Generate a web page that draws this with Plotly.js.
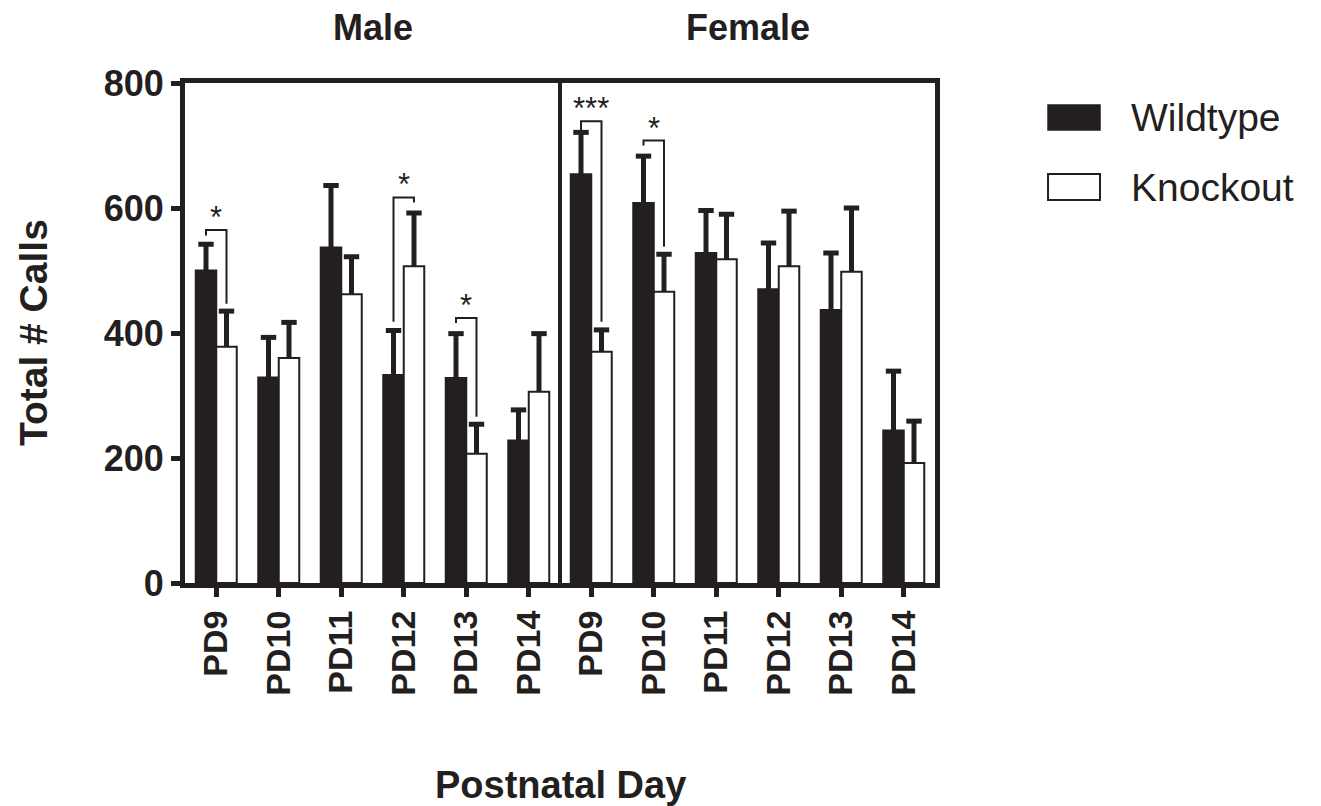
<!DOCTYPE html>
<html>
<head>
<meta charset="utf-8">
<script src="https://cdn.plot.ly/plotly-3.0.1.min.js"></script>
<style>html,body{margin:0;padding:0;background:#fff;}#chart{width:1321px;height:806px;}</style>
</head>
<body>
<div id="chart"></div>
<script>
// ---- data ----
var dayLabels = ["PD9","PD10","PD11","PD12","PD13","PD14","PD9","PD10","PD11","PD12","PD13","PD14"];
var groupTitles = ["Male","Female"];
var wildtype = [500, 329, 537, 333, 328, 228, 654, 608, 528, 470, 437, 244];
var wildtypeErr = [42, 64, 99, 71, 71, 49, 67, 75, 68, 74, 91, 95];
var knockout = [378, 360, 462, 507, 207, 306, 370, 466, 518, 507, 498, 192];
var knockoutErr = [57, 57, 60, 85, 47, 93, 35, 60, 72, 88, 102, 67];
// significance brackets: category index, bracket top, left leg bottom, right leg bottom, label
var sigIndex = [0, 3, 4, 6, 7];
var sigTop = [565, 617, 424, 739, 708];
var sigLeftBottom = [556, 418, 416, 716, 700];
var sigRightBottom = [447, 609, 266, 418, 538];
var sigLabel = ["*", "*", "*", "***", "*"];
var yTicks = [0, 200, 400, 600, 800];

var ink = "#231f20";
var fam = "'Liberation Sans', Arial, Helvetica, sans-serif";
var idx = dayLabels.map(function(_, i){ return i; });
var zeros = idx.map(function(){ return 0; });
var half = 0.164;

var traces = [
  {type:"bar", x: idx, y: wildtype, name:"Wildtype",
   marker:{color: ink, line:{color: ink, width: 2}},
   error_y:{type:"data", symmetric:false, array: wildtypeErr, arrayminus: zeros, thickness: 5, width: 0, color: ink},
   hoverinfo:"skip"},
  {type:"bar", x: idx, y: knockout, name:"Knockout",
   marker:{color:"#ffffff", line:{color: ink, width: 2}},
   error_y:{type:"data", symmetric:false, array: knockoutErr, arrayminus: zeros, thickness: 5, width: 0, color: ink},
   hoverinfo:"skip"}
];
// error bar caps (top only)
traces.push({type:"scatter", mode:"markers", x: idx.map(function(i){ return i - half; }),
  y: wildtype.map(function(v, i){ return v + wildtypeErr[i]; }),
  marker:{symbol:"line-ew", size:11, line:{color: ink, width:5}}, showlegend:false, hoverinfo:"skip", cliponaxis:false});
traces.push({type:"scatter", mode:"markers", x: idx.map(function(i){ return i + half; }),
  y: knockout.map(function(v, i){ return v + knockoutErr[i]; }),
  marker:{symbol:"line-ew", size:11, line:{color: ink, width:5}}, showlegend:false, hoverinfo:"skip", cliponaxis:false});

var annotations = [];
sigIndex.forEach(function(c, k){
  var xl = c - half, xr = c + half;
  traces.push({type:"scatter", mode:"lines", x:[xl, xl, xr, xr],
    y:[sigLeftBottom[k], sigTop[k], sigTop[k], sigRightBottom[k]],
    line:{color: ink, width: 2}, showlegend:false, hoverinfo:"skip", cliponaxis:false});
  annotations.push({x: c, y: sigTop[k], xref:"x", yref:"y", text: sigLabel[k], showarrow:false,
    yanchor:"bottom", yshift: -7, font:{family: fam, size: 31, color: ink}});
});

groupTitles.forEach(function(t, g){
  annotations.push({x: g*6 + 2.5, y: 1, xref:"x", yref:"paper", text: t, showarrow:false,
    yanchor:"middle", yshift: 56, font:{family: fam, size: 36, color: ink, weight: "bold"}});
});
annotations.push({x: 0, y: 0.5, xref:"paper", yref:"paper", text:"Total # Calls", textangle:-90,
  showarrow:false, xanchor:"center", yanchor:"middle", xshift: -152,
  font:{family: fam, size: 39, color: ink, weight:"bold"}});
annotations.push({x: 0.5, y: 0, xref:"paper", yref:"paper", text:"Postnatal Day",
  showarrow:false, xanchor:"center", yanchor:"middle", yshift: -202,
  font:{family: fam, size: 38, color: ink, weight:"bold"}});
// legend labels
annotations.push({x: 1.259, y: 0.93, xref:"paper", yref:"paper", text: traces[0].name, showarrow:false,
  xanchor:"left", yanchor:"middle", font:{family: fam, size: 39, color: ink}});
annotations.push({x: 1.259, y: 0.792, xref:"paper", yref:"paper", text: traces[1].name, showarrow:false,
  xanchor:"left", yanchor:"middle", font:{family: fam, size: 39, color: ink}});

var shapes = [
  {type:"line", xref:"x", yref:"paper", x0: 5.5, x1: 5.5, y0: 0, y1: 1, line:{color: ink, width: 4}},
  {type:"rect", xref:"paper", yref:"paper", x0: 1.1507, x1: 1.22, y0: 0.906, y1: 0.956,
   fillcolor: ink, line:{color: ink, width: 1.5}},
  {type:"rect", xref:"paper", yref:"paper", x0: 1.1507, x1: 1.22, y0: 0.766, y1: 0.818,
   fillcolor:"#ffffff", line:{color: ink, width: 2}}
];

var layout = {
  width: 1321, height: 806,
  margin:{l:185, r:386, t:83, b:223, pad:0},
  paper_bgcolor:"#ffffff", plot_bgcolor:"#ffffff",
  showlegend:false,
  barmode:"group", bargap: 0.344, bargroupgap: 0,
  xaxis:{type:"linear", range:[-0.5, 11.5], tickvals: idx, ticktext: dayLabels, tickangle:-90,
    showline:true, linewidth:5, linecolor: ink, mirror:true, showgrid:false, zeroline:false,
    ticks:"outside", ticklen:9, tickwidth:5, tickcolor: ink,
    tickfont:{family: fam, size: 34, color: ink, weight:"bold"}, fixedrange:true},
  yaxis:{range:[0, 800], tickvals: yTicks, showline:true, linewidth:5, linecolor: ink, mirror:true,
    showgrid:false, zeroline:false, ticks:"outside", ticklen:9, tickwidth:5, tickcolor: ink,
    tickfont:{family: fam, size: 36, color: ink, weight:"bold"}, fixedrange:true},
  annotations: annotations,
  shapes: shapes
};

Plotly.newPlot("chart", traces, layout, {displayModeBar:false, staticPlot:true});
</script>
</body>
</html>
